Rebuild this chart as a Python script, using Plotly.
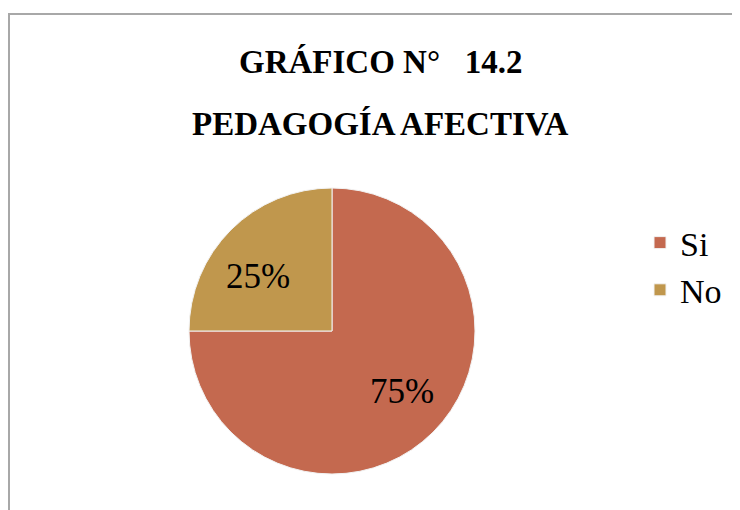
import math
import plotly.graph_objects as go

labels = ["Si", "No"]
values = [75, 25]
colors = ["#C4694F", "#C0974D"]
title_lines = ["GRÁFICO N°   14.2", "PEDAGOGÍA AFECTIVA"]

# page has an 8px body margin; work in page pixels and convert
OFF = 8
W, H = 740 - OFF, 510 - OFF
FONT = "Liberation Serif, Times New Roman, serif"


def px(x):
    return (x - OFF) / W


def py(y):
    return 1 - (y - OFF) / H


CX, CY, R = 332, 331, 143
LABEL_R = 0.645
LABEL_ANGLE_SHIFT = [-4.0, -8.7]  # degrees, per slice (label placement style)

fig = go.Figure(go.Pie(
    labels=labels,
    values=values,
    marker=dict(colors=colors, line=dict(color="#F2F2F2", width=1)),
    sort=False,
    direction="clockwise",
    rotation=0,
    textinfo="none",
    domain=dict(x=[px(CX - R), px(CX + R)], y=[py(CY + R), py(CY - R)]),
    hoverinfo="label+percent",
))

# percent labels placed near each slice's bisector
total = sum(values)
cum = 0
for v, shift in zip(values, LABEL_ANGLE_SHIFT):
    mid = math.radians((cum + v / 2) / total * 360 + shift)  # clockwise from 12 o'clock
    cum += v
    lx = CX + LABEL_R * R * math.sin(mid)
    ly = CY - LABEL_R * R * math.cos(mid)
    fig.add_annotation(text="%d%%" % round(100 * v / total), x=px(lx), y=py(ly),
                       xref="paper", yref="paper", showarrow=False,
                       xanchor="center", yanchor="middle",
                       font=dict(family=FONT, size=35, color="black"))

fig.add_annotation(text="<b>%s</b>" % title_lines[0], x=px(381), y=py(62),
                   xref="paper", yref="paper", showarrow=False,
                   xanchor="center", yanchor="middle",
                   font=dict(family=FONT, size=33, color="black"))
fig.add_annotation(text="<b>%s</b>" % title_lines[1], x=px(380), y=py(124),
                   xref="paper", yref="paper", showarrow=False,
                   xanchor="center", yanchor="middle",
                   font=dict(family=FONT, size=33, color="black"))

fig.add_shape(type="path", xref="paper", yref="paper",
              path="M %f,-0.02 L %f,%f L 1.02,%f" % (px(9), px(9), py(14), py(14)),
              line=dict(color="#A8A8A8", width=2))

fig.update_layout(
    width=W, height=H,
    margin=dict(l=0, r=0, t=0, b=0),
    paper_bgcolor="white",
    plot_bgcolor="white",
    showlegend=True,
    legend=dict(x=px(640), y=py(214), xanchor="left", yanchor="top",
                font=dict(family=FONT, size=34, color="black"),
                bgcolor="rgba(0,0,0,0)"),
)

fig.write_html("out.html")
